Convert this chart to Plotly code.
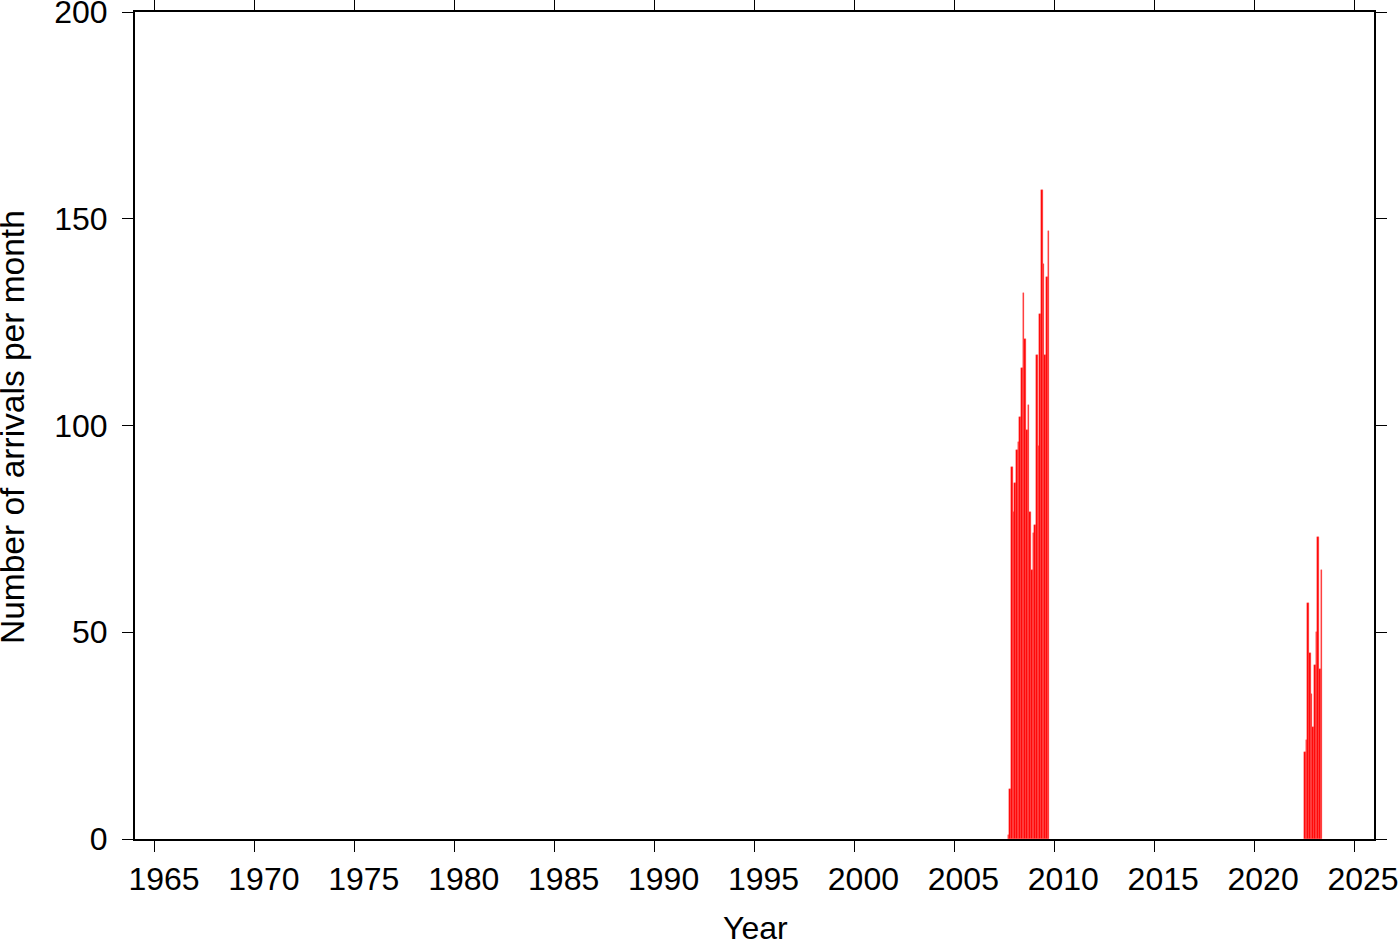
import plotly.graph_objects as go

# Monthly arrival counts, cluster 1: Sep 2007 .. Sep 2009
months_a_start = (2007, 9)
counts_a = [1, 12, 90, 79, 86, 94, 96, 102, 114, 132, 121, 99, 105,
            79, 65, 74, 76, 117, 95, 127, 157, 139, 117, 136, 147]
# cluster 2: Jul 2022 .. May 2023
months_b_start = (2022, 7)
counts_b = [21, 24, 57, 45, 35, 27, 42, 50, 73, 41, 65]

x_ticks = list(range(1965, 2030, 5))
y_ticks = [0, 50, 100, 150, 200]
x_title = "Year"
y_title = "Number of arrivals per month"


def month_centers(start, n):
    y, m = start
    out = []
    for i in range(n):
        mm = m - 1 + i
        out.append(y + mm // 12 + (mm % 12) / 12 + 1 / 24)
    return out


xs = month_centers(months_a_start, len(counts_a)) + month_centers(months_b_start, len(counts_b))
ys = counts_a + counts_b

font = "Liberation Sans, Arial, Helvetica, sans-serif"

W, H = 1400, 942
ML, MR, MT, MB = 135, 26, 12, 103
PW, PH = W - ML - MR, H - MT - MB

fig = go.Figure(go.Bar(
    x=xs, y=ys, width=1 / 12,
    marker=dict(color="#ff0000", line=dict(color="#ff5a5a", width=0.4)),
))

axis_common = dict(
    showline=True, linecolor="black", linewidth=2, mirror="ticks",
    ticks="outside", ticklen=11, tickwidth=1.2, tickcolor="black",
    showgrid=False, zeroline=False, automargin=False,
    ticklabeloverflow="allow",
    tickfont=dict(family=font, size=32, color="black"),
)

fig.update_layout(
    width=W, height=H,
    margin=dict(l=ML, r=MR, t=MT, b=MB),
    plot_bgcolor="white", paper_bgcolor="white",
    showlegend=False, bargap=0,
    font=dict(family=font, color="black"),
    xaxis=dict(range=[1964, 2026], tickvals=x_ticks, ticklabelshift=9, **axis_common),
    yaxis=dict(range=[0, 200], tickvals=y_ticks, ticklabelstandoff=8, **axis_common),
    annotations=[
        dict(text=x_title, xref="paper", yref="paper",
             x=(755 - ML) / PW, y=(H - MB - 928) / PH,
             xanchor="center", yanchor="middle", showarrow=False,
             font=dict(family=font, size=32, color="black")),
        dict(text=y_title, xref="paper", yref="paper",
             x=(13 - ML) / PW, y=(H - MB - 427) / PH, textangle=-90,
             xanchor="center", yanchor="middle", showarrow=False,
             font=dict(family=font, size=33.5, color="black")),
    ],
)

fig.write_html("out.html", config={"displayModeBar": False},
               post_script="document.body.style.margin='0';document.body.style.overflow='hidden';")
